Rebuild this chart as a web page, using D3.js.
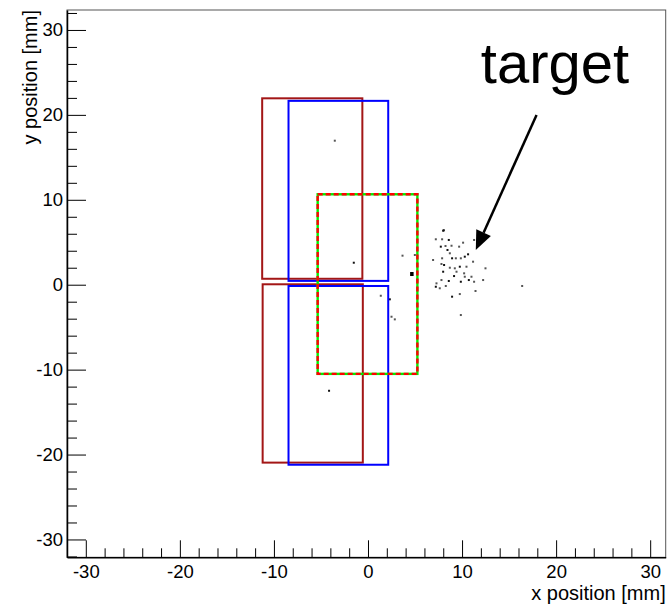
<!DOCTYPE html>
<html>
<head>
<meta charset="utf-8">
<script src="https://cdn.jsdelivr.net/npm/d3@7"></script>
<style>
  body { margin: 0; background: #fff; }
  text { font-family: "Liberation Sans", Arial, sans-serif; }
</style>
</head>
<body>
<div id="chart"></div>
<script>
// detector boxes, in mm
const boxNames = ['upperA', 'upperB', 'lowerA', 'lowerB', 'target'];
const boxX0 = [-11.25, -8.45, -11.2, -8.45, -5.35];
const boxX1 = [-0.6, 2.15, -0.55, 2.15, 5.25];
const boxY0 = [0.7, 0.45, -20.95, -21.2, -10.5];
const boxY1 = [21.95, 21.65, 0.05, -0.15, 10.65];

// reconstructed hits, in mm
const hitX = [8.06, 7.21, 7.88, 8.59, 10.11, 11.28, 7.74, 8.24, 8.88, 8.45, 9.69, 8.70, 10.64,
  6.92, 7.88, 8.94, 9.34, 9.87, 10.29, 11.17, 7.81, 8.09, 8.70, 9.23, 9.76, 10.47, 12.49,
  7.99, 9.41, 10.22, 9.15, 10.29, 11.00, 10.72, 7.81, 7.28, 8.59, 11.28, 12.24, 7.21, 7.63,
  8.27, 9.87, 11.43, 9.76, 8.94, 16.39, 9.87, 7.99, 3.67, -3.53, -1.51, 4.98, 1.36, 2.32,
  2.50, 2.85, -4.14];
const hitY = [6.41, 5.35, 5.35, 5.27, 4.95, 5.27, 4.48, 4.56, 4.59, 4.09, 4.48, 3.70, 3.58,
  2.91, 3.11, 3.11, 3.11, 3.11, 3.30, 2.71, 2.44, 2.32, 2.00, 1.93, 2.12, 2.12, 1.93,
  1.53, 1.53, 1.34, 1.02, 0.94, 0.94, 0.55, 0.55, 0.16, 0.44, 0.35, 0.55, -0.24, -0.42,
  -0.15, 0.35, -0.74, -1.10, -1.41, -0.15, -3.57, 6.36, 3.42, 16.96, 2.59, 3.50, -1.30, -1.72,
  -3.77, -4.08, -12.49];
// one heavier hit
const bigHitX = [4.69];
const bigHitY = [1.26];

const majorTicks = [-30, -20, -10, 0, 10, 20, 30];
const minorTicks = d3.range(-32, 32, 2).filter(v => v % 10 !== 0);

// annotation, in mm
const arrowFrom = [17.92, 19.99];
const arrowTo = [11.46, 4.09];
const labelPos = [12.0, 23.7];
const labelText = 'target';

const width = 672;
const height = 605;
const frame = { left: 67, right: 665.7, top: 10, bottom: 557.3 };

const svg = d3.select('#chart').append('svg')
    .attr('width', width)
    .attr('height', height);

const xScale = d3.scaleLinear()
    .domain([-32, 31.65])
    .range([frame.left, frame.right]);

const yScale = d3.scaleLinear()
    .domain([-32.1, 32.35])
    .range([frame.bottom, frame.top]);

// frame
svg.append('rect')
    .attr('x', frame.left)
    .attr('y', frame.top)
    .attr('width', frame.right - frame.left)
    .attr('height', frame.bottom - frame.top)
    .attr('fill', 'none')
    .attr('stroke', '#555')
    .attr('stroke-width', 1);

const plainFormat = d => String(d);

// x axis, ticks pointing inwards
svg.append('g')
    .attr('transform', `translate(0, ${frame.bottom})`)
    .call(d3.axisBottom(xScale).tickValues(majorTicks).tickSize(-17).tickSizeOuter(0)
        .tickPadding(8).tickFormat(plainFormat));

svg.append('g')
    .attr('transform', `translate(0, ${frame.bottom})`)
    .call(d3.axisBottom(xScale).tickValues(minorTicks).tickSize(-9).tickSizeOuter(0).tickFormat(''))
    .call(g => g.select('.domain').remove());

svg.append('g')
    .attr('transform', `translate(${frame.left}, 0)`)
    .call(d3.axisLeft(yScale).tickValues(majorTicks).tickSize(-19).tickSizeOuter(0)
        .tickPadding(4).tickFormat(plainFormat));

svg.append('g')
    .attr('transform', `translate(${frame.left}, 0)`)
    .call(d3.axisLeft(yScale).tickValues(minorTicks.concat([32])).tickSize(-10).tickSizeOuter(0).tickFormat(''))
    .call(g => g.select('.domain').remove());

svg.selectAll('.tick text')
    .style('font-size', '18.5px')
    .attr('fill', '#000');

svg.selectAll('.domain').attr('stroke', '#000').attr('stroke-width', 1.5);

svg.append('text')
    .attr('x', frame.right)
    .attr('y', 600)
    .attr('text-anchor', 'end')
    .style('font-size', '20px')
    .text('x position [mm]');

svg.append('text')
    .attr('transform', `translate(37, ${frame.top})rotate(-90)`)
    .attr('text-anchor', 'end')
    .style('font-size', '20px')
    .text('y position [mm]');

// hits
const hits = hitX.map((x, i) => ({ x: x, y: hitY[i] }));

svg.append('g')
    .selectAll('rect')
    .data(hits)
    .enter()
    .append('rect')
    .attr('x', dp => xScale(dp.x) - 1)
    .attr('y', dp => yScale(dp.y) - 1)
    .attr('width', 2)
    .attr('height', 2)
    .attr('fill', (dp, i) => i % 3 === 0 ? '#111' : '#555');

svg.append('g')
    .selectAll('rect')
    .data(bigHitX.map((x, i) => ({ x: x, y: bigHitY[i] })))
    .enter()
    .append('rect')
    .attr('x', dp => xScale(dp.x) - 2)
    .attr('y', dp => yScale(dp.y) - 2)
    .attr('width', 3.5)
    .attr('height', 4)
    .attr('fill', '#000');

// boxes
const boxes = boxNames.map((name, i) => ({
    name: name, x0: boxX0[i], x1: boxX1[i], y0: boxY0[i], y1: boxY1[i]
}));
const boxColor = { upperA: '#a31616', lowerA: '#a31616', upperB: '#0000ff', lowerB: '#0000ff', target: '#00ee00' };

const boxG = svg.append('g');

boxG.selectAll('rect.box')
    .data(boxes)
    .enter()
    .append('rect')
    .attr('class', 'box')
    .attr('x', dp => xScale(dp.x0))
    .attr('y', dp => yScale(dp.y1))
    .attr('width', dp => xScale(dp.x1) - xScale(dp.x0))
    .attr('height', dp => yScale(dp.y0) - yScale(dp.y1))
    .attr('fill', 'none')
    .attr('stroke', dp => boxColor[dp.name])
    .attr('stroke-width', dp => dp.name === 'target' ? 2.4 : 2);

// red dashes over the green target outline
boxG.selectAll('rect.dash')
    .data(boxes.filter(dp => dp.name === 'target'))
    .enter()
    .append('rect')
    .attr('class', 'dash')
    .attr('x', dp => xScale(dp.x0))
    .attr('y', dp => yScale(dp.y1))
    .attr('width', dp => xScale(dp.x1) - xScale(dp.x0))
    .attr('height', dp => yScale(dp.y0) - yScale(dp.y1))
    .attr('fill', 'none')
    .attr('stroke', '#ff0000')
    .attr('stroke-width', 2.4)
    .attr('stroke-dasharray', '5,3');

// arrow annotation
const ax0 = xScale(arrowFrom[0]), ay0 = yScale(arrowFrom[1]);
const ax1 = xScale(arrowTo[0]), ay1 = yScale(arrowTo[1]);
const ang = Math.atan2(ay1 - ay0, ax1 - ax0);
const headLen = 19, headHalf = 8;
const bx = ax1 - headLen * Math.cos(ang), by = ay1 - headLen * Math.sin(ang);

svg.append('line')
    .attr('x1', ax0)
    .attr('y1', ay0)
    .attr('x2', bx)
    .attr('y2', by)
    .attr('stroke', '#000')
    .attr('stroke-width', 2.5);

svg.append('path')
    .attr('d', d3.line()([
        [ax1, ay1],
        [bx + headHalf * Math.sin(ang), by - headHalf * Math.cos(ang)],
        [bx - headHalf * Math.sin(ang), by + headHalf * Math.cos(ang)]
    ]) + 'Z')
    .attr('fill', '#000');

svg.append('text')
    .attr('x', xScale(labelPos[0]))
    .attr('y', yScale(labelPos[1]))
    .style('font-size', '58px')
    .text(labelText);
</script>
</body>
</html>
